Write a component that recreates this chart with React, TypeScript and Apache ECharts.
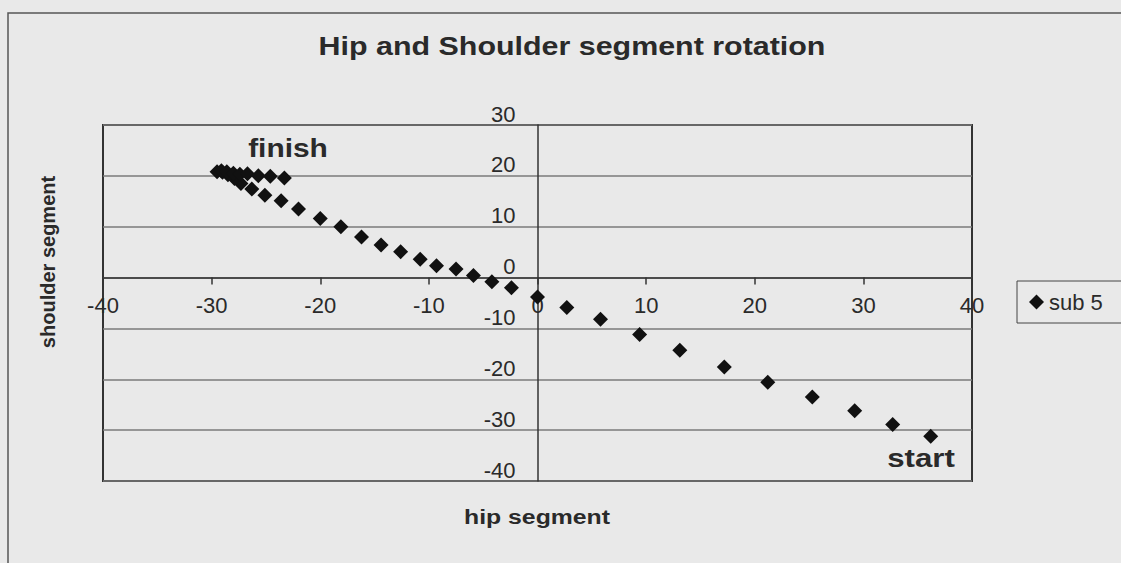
import React, { useEffect, useRef } from "react";
import * as echarts from "echarts";

const chartTitle = "Hip and Shoulder segment rotation";
const xAxisTitle = "hip segment";
const yAxisTitle = "shoulder segment";
const seriesName = "sub 5";
const startLabel = "start";
const finishLabel = "finish";

// hip segment (x) values, from start to finish
const hipSegment = [
  36.2, 32.7, 29.2, 25.3, 21.2, 17.2, 13.1, 9.4, 5.8, 2.7, 0.0, -2.4, -4.2,
  -5.9, -7.5, -9.3, -10.8, -12.6, -14.4, -16.2, -18.1, -20.0, -22.0, -23.6,
  -25.1, -26.3, -27.3, -27.9, -28.5, -29.0, -29.5, -29.1, -28.6, -28.0,
  -27.4, -26.7, -25.7, -24.6, -23.3,
];
// shoulder segment (y) values
const shoulderSegment = [
  -31.2, -28.9, -26.2, -23.5, -20.6, -17.6, -14.3, -11.2, -8.2, -5.9, -3.8,
  -2.0, -0.8, 0.4, 1.7, 2.3, 3.6, 5.1, 6.4, 8.0, 10.0, 11.6, 13.5, 15.1,
  16.2, 17.4, 18.5, 19.5, 20.2, 20.7, 20.8, 21.0, 20.8, 20.5, 20.3, 20.4,
  20.0, 19.9, 19.6,
];

const xMin = -40;
const xMax = 40;
const yMin = -40;
const yMax = 30;
const tickStep = 10;

const FONT = "'Liberation Sans', Arial, sans-serif";

const GRID_LEFT = 103;
const GRID_TOP = 125;
const GRID_W = 869;
const GRID_H = 356;

export default function App() {
  const ref = useRef<HTMLDivElement>(null);
  useEffect(() => {
    if (!ref.current) return;
    const chart = echarts.init(ref.current, undefined, { renderer: "svg" });
    const data = hipSegment.map((x, i) => [x, shoulderSegment[i]]);
    // offsets to place axes at the zero crossings
    const xZeroFrac = (0 - xMin) / (xMax - xMin);
    const yZeroFrac = (yMax - 0) / (yMax - yMin);
    const yAxisOffset = -GRID_W * xZeroFrac;
    const xAxisOffset = -(GRID_H * (1 - yZeroFrac));
    chart.setOption({
      animation: false,
      backgroundColor: "#e9e9e9",
      textStyle: { fontFamily: FONT },
      legend: {
        data: [seriesName],
        left: 1017,
        top: 281,
        orient: "vertical",
        borderColor: "#444",
        borderWidth: 1,
        padding: [10, 30, 10, 12],
        itemWidth: 15,
        itemHeight: 15,
        itemGap: 0,
        icon: "diamond",
        itemStyle: { color: "#111", opacity: 1 },
        textStyle: { fontFamily: FONT, fontSize: 22, color: "#2a2a2a" },
      },
      grid: {
        left: GRID_LEFT,
        top: GRID_TOP,
        width: GRID_W,
        height: GRID_H,
        show: true,
        borderColor: "#333",
        borderWidth: 2,
        backgroundColor: "transparent",
      },
      xAxis: {
        type: "value",
        min: xMin,
        max: xMax,
        interval: tickStep,
        position: "bottom",
        offset: xAxisOffset,
        axisLine: { onZero: false, lineStyle: { color: "#333", width: 1.5 } },
        axisTick: { show: true, length: 7, inside: false, lineStyle: { color: "#333", width: 1.5 } },
        axisLabel: {
          margin: 17,
          fontFamily: FONT,
          fontSize: 22,
          color: "#2a2a2a",
          showMinLabel: true,
          showMaxLabel: true,
        },
        splitLine: { show: false },
      },
      yAxis: {
        type: "value",
        min: yMin,
        max: yMax,
        interval: tickStep,
        position: "left",
        offset: yAxisOffset,
        axisLine: { onZero: false, lineStyle: { color: "#333", width: 1.5 } },
        axisTick: { show: false },
        axisLabel: {
          margin: 22,
          fontFamily: FONT,
          fontSize: 22,
          color: "#2a2a2a",
          verticalAlign: "bottom",
          showMinLabel: true,
          showMaxLabel: true,
        },
        splitLine: { show: true, lineStyle: { color: "#7a7a7a", width: 1.5 } },
      },
      graphic: [
        {
          type: "rect",
          shape: { x: 8, y: 13, width: 1200, height: 600 },
          style: { fill: "none", stroke: "#555", lineWidth: 1.5 },
          silent: true,
          z: -1,
        },
        {
          type: "text",
          x: 572,
          y: 46,
          scaleX: 1.17,
          style: {
            text: chartTitle,
            fontFamily: FONT,
            fontSize: 26,
            fontWeight: "bold",
            fill: "#2a2a2a",
            align: "center",
            verticalAlign: "middle",
          },
        },
        {
          type: "text",
          x: 48,
          y: 262,
          rotation: Math.PI / 2,
          style: {
            text: yAxisTitle,
            fontFamily: FONT,
            fontSize: 20,
            fontWeight: "bold",
            fill: "#2a2a2a",
            align: "center",
            verticalAlign: "middle",
          },
        },
        {
          type: "text",
          x: 537,
          y: 517,
          scaleX: 1.18,
          style: {
            text: xAxisTitle,
            fontFamily: FONT,
            fontSize: 21,
            fontWeight: "bold",
            fill: "#2a2a2a",
            align: "center",
            verticalAlign: "middle",
          },
        },
        {
          type: "text",
          x: 288,
          y: 148,
          scaleX: 1.15,
          style: {
            text: finishLabel,
            fontFamily: FONT,
            fontSize: 26,
            fontWeight: "bold",
            fill: "#2a2a2a",
            align: "center",
            verticalAlign: "middle",
          },
        },
        {
          type: "text",
          x: 921,
          y: 458,
          scaleX: 1.2,
          style: {
            text: startLabel,
            fontFamily: FONT,
            fontSize: 26,
            fontWeight: "bold",
            fill: "#2a2a2a",
            align: "center",
            verticalAlign: "middle",
          },
        },
      ],
      series: [
        {
          name: seriesName,
          type: "scatter",
          symbol: "diamond",
          symbolSize: 15,
          itemStyle: { color: "#111", opacity: 1 },
          data,
        },
      ],
    });
    return () => chart.dispose();
  }, []);
  return (
    <div
      ref={ref}
      style={{ position: "fixed", left: 0, top: 0, width: 1121, height: 563 }}
    />
  );
}
